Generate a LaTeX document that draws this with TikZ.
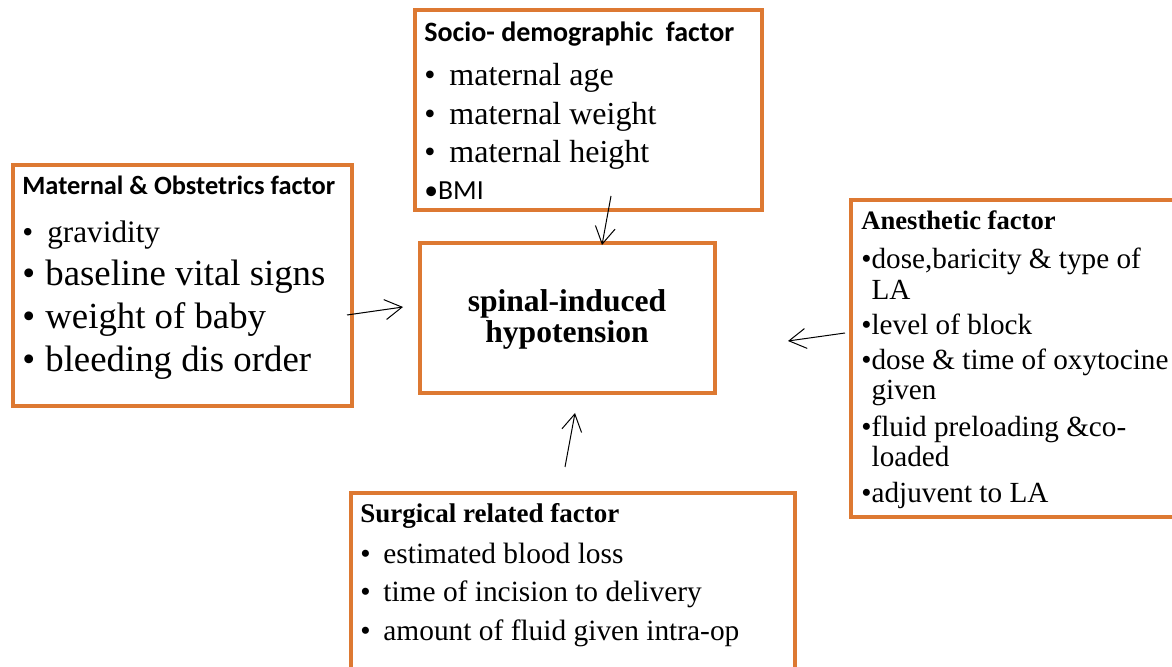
\documentclass[tikz,border=0pt]{standalone}
\usepackage{fontspec}
\setmainfont{Liberation Serif}
\newfontfamily\calibri{Carlito}
\usetikzlibrary{arrows.meta}
\definecolor{boxorange}{RGB}{221,121,50}
\newcommand{\bul}[1]{\makebox[#1][l]{•}}

\tikzset{
  frame/.style={draw=boxorange, line width=1.8pt, inner sep=0pt, outer sep=0pt, anchor=north west},
  line/.style={anchor=base west, inner sep=0pt},
  arr/.style={line width=0.5pt, -{Straight Barb[length=8.5pt,width=10pt]}},
}

\begin{document}
\begin{tikzpicture}[x=0.5pt, y=-0.5pt]
    \useasboundingbox (0,0) rectangle (1172,667);

    % Boxes
    \node[frame, minimum width=173.5pt, minimum height=100pt] (socio) at (415,10) {};
    \node[frame, minimum width=169.5pt, minimum height=120.5pt] (mat) at (13,165) {};
    \node[frame, minimum width=147.5pt, minimum height=75pt] (spinal) at (420,243) {};
    \node[frame, minimum width=167pt, minimum height=158.5pt] (anes) at (851,200) {};
    \node[frame, minimum width=222pt, minimum height=104pt] (surg) at (351,493) {};

    % Socio-demographic factor
    \node[line, font=\calibri\bfseries\fontsize{14}{16}\selectfont] (socio-h) at (424,42) {Socio- demographic\ \ factor};
    \foreach \y/\t [count=\i] in {86/maternal age, 125/maternal weight, 163/maternal height}
        \node[line, font=\fontsize{16}{19}\selectfont] (socio-\i) at (424,\y) {\bul{12.5pt}\t};
    \node[line, font=\calibri\fontsize{13.8}{16}\selectfont] (socio-4) at (424,200) {•BMI};

    % Maternal & obstetrics factor
    \node[line, font=\calibri\bfseries\fontsize{13.2}{16}\selectfont] (mat-h) at (22,195) {Maternal \& Obstetrics factor};
    \node[line, font=\fontsize{15.6}{18}\selectfont] (mat-1) at (22,243) {\bul{12.5pt}gravidity};
    \foreach \y/\t [count=\i from 2] in {286/baseline vital signs, 329/weight of baby, 372/bleeding dis order}
        \node[line, font=\fontsize{18.4}{22}\selectfont] (mat-\i) at (22,\y) {\bul{11.5pt}\t};

    % Outcome
    \node[anchor=base, inner sep=0pt, font=\bfseries\fontsize{15.8}{16}\selectfont] (spinal-1) at (567,312) {spinal-induced};
    \node[anchor=base, inner sep=0pt, font=\bfseries\fontsize{15.8}{16}\selectfont] (spinal-2) at (567,343) {hypotension};

    % Anesthetic factor
    \node[line, font=\bfseries\fontsize{13.3}{16}\selectfont] (anes-h) at (861,230) {Anesthetic factor};
    \foreach \y/\t [count=\i] in {269/{•dose,baricity \& type of}, 300/\phantom{•}LA, 335/•level of block,
                                  370/•dose \& time of oxytocine, 400/\phantom{•}given,
                                  437/•fluid preloading \&co-, 467/\phantom{•}loaded, 503/•adjuvent to LA}
        \node[line, font=\fontsize{14.6}{17}\selectfont] (anes-\i) at (861,\y) {\t};

    % Surgical related factor
    \node[line, font=\bfseries\fontsize{13.5}{16}\selectfont] (surg-h) at (360,523) {Surgical related factor};
    \foreach \y/\t [count=\i] in {563/estimated blood loss, 602/time of incision to delivery, 640/amount of fluid given intra-op}
        \node[line, font=\fontsize{14.7}{18}\selectfont] (surg-\i) at (360,\y) {\bul{11.5pt}\t};

    % Arrows into the outcome
    \coordinate (socio-out) at (611,196);
    \coordinate (spinal-top) at (602,245);
    \coordinate (mat-out) at (347,315);
    \coordinate (spinal-left) at (403,307);
    \coordinate (anes-out) at (845,333);
    \coordinate (spinal-right) at (788,341);
    \coordinate (surg-out) at (565,467);
    \coordinate (spinal-bottom) at (575,413);
    \draw[arr] (socio-out) -- (spinal-top);
    \draw[arr] (mat-out) -- (spinal-left);
    \draw[arr] (anes-out) -- (spinal-right);
    \draw[arr] (surg-out) -- (spinal-bottom);
\end{tikzpicture}
\end{document}
